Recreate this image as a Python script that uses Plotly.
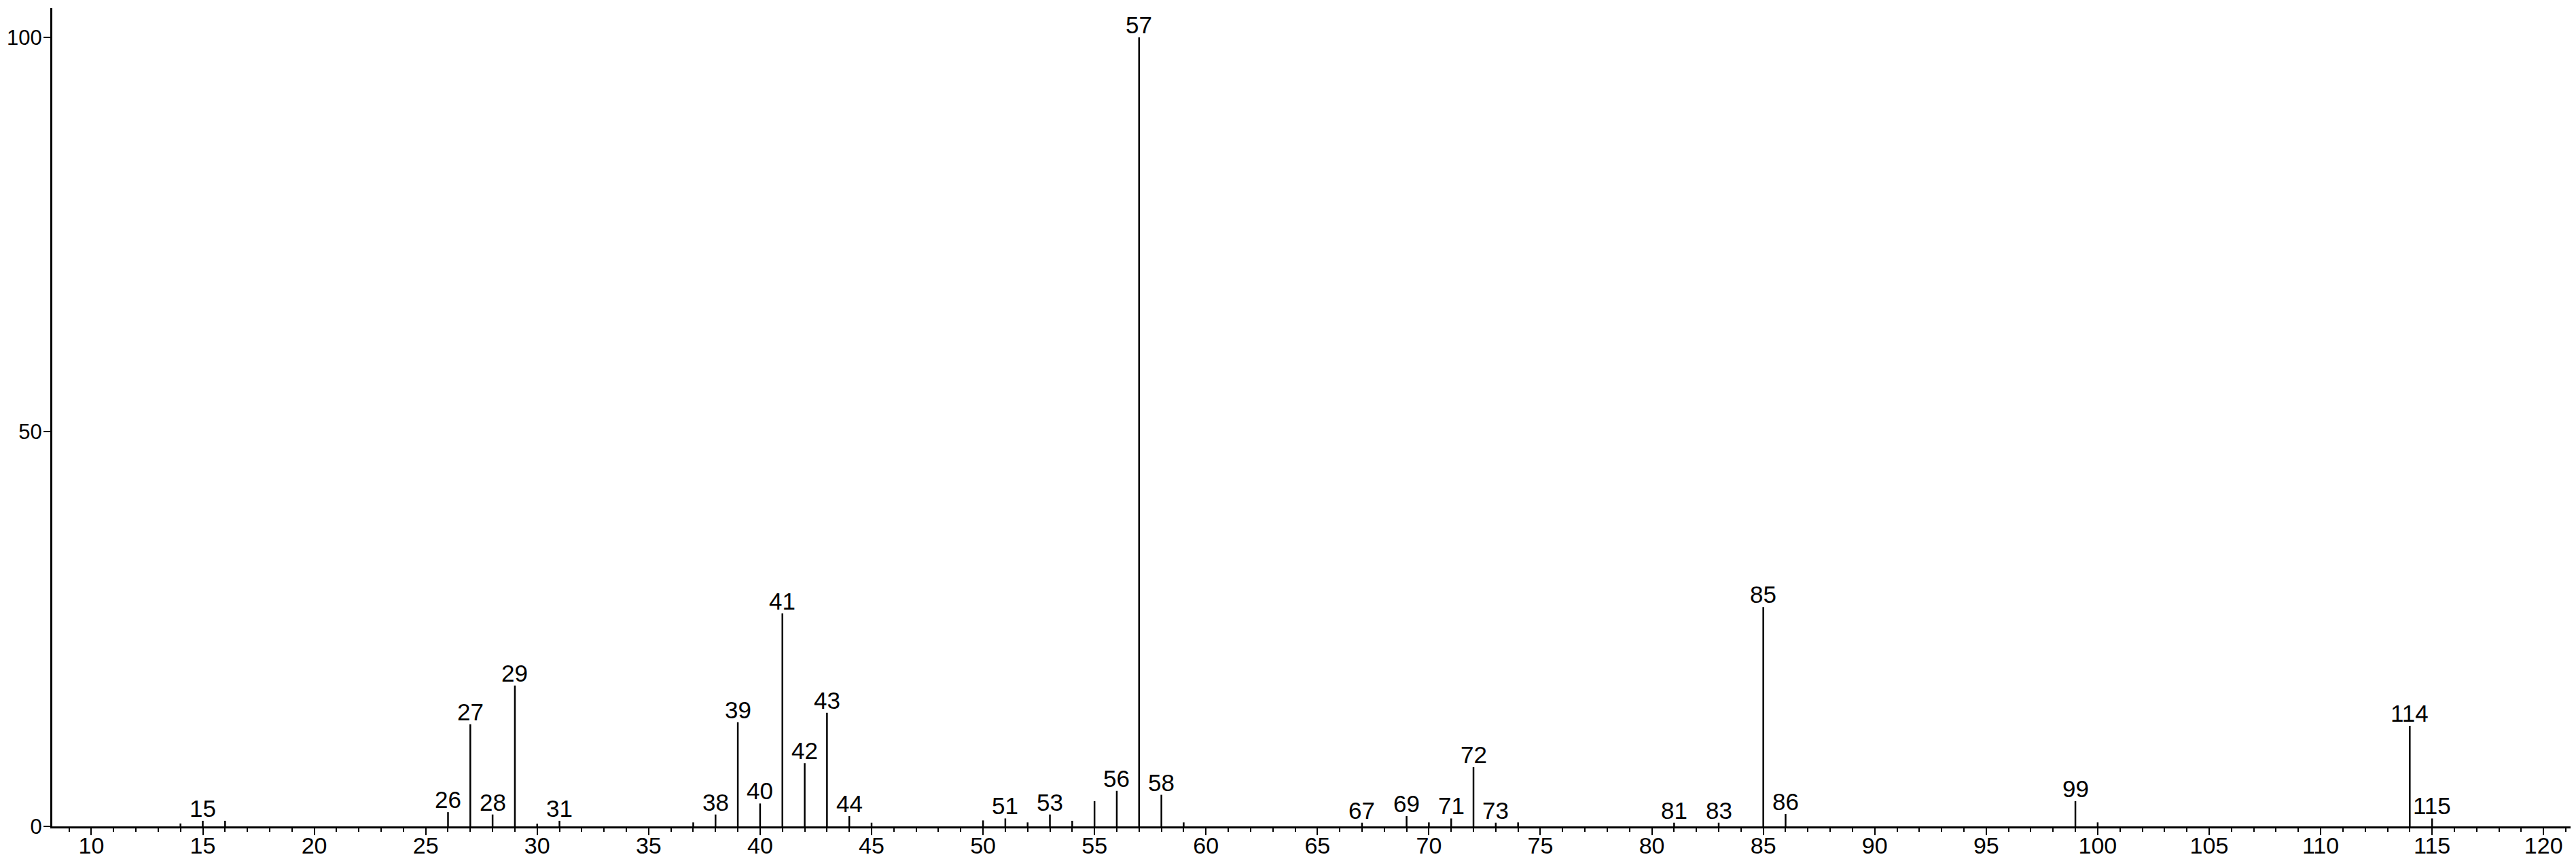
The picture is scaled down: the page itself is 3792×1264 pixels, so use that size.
import plotly.graph_objects as go

# m/z values and relative intensities
mz = [14, 15, 16, 26, 27, 28, 29, 30, 31, 37, 38, 39, 40, 41, 42, 43, 44, 45,
      50, 51, 52, 53, 54, 55, 56, 57, 58, 59, 67, 69, 70, 71, 72, 73, 74,
      81, 83, 85, 86, 99, 100, 114, 115]
intensity = [0.37, 0.7, 0.7, 1.8, 12.95, 1.5, 17.85, 0.35, 0.7, 0.5, 1.5, 13.2, 2.9, 27.0, 8.0, 14.4, 1.3, 0.46,
             0.75, 1.0, 0.5, 1.5, 0.7, 3.2, 4.5, 100.0, 4.0, 0.5, 0.46, 1.3, 0.5, 1.0, 7.5, 0.46, 0.5,
             0.46, 0.46, 27.8, 1.55, 3.2, 0.5, 12.75, 1.0]

labelled = [15, 26, 27, 28, 29, 31, 38, 39, 40, 41, 42, 43, 44, 51, 53, 56, 57, 58,
            67, 69, 71, 72, 73, 81, 83, 85, 86, 99, 114, 115]

y_ticks = [0, 50, 100]
x_range = [8.25, 121.7]

FONT = "Liberation Sans, Arial, sans-serif"

# stick spectrum: one vertical segment per peak
xs, ys = [], []
for m, h in zip(mz, intensity):
    xs += [m, m, None]
    ys += [0, h, None]

fig = go.Figure(go.Scatter(x=xs, y=ys, mode="lines",
                           line=dict(color="black", width=2.5),
                           hoverinfo="skip", showlegend=False))
# empty trace so the overlay axis (long major ticks) gets drawn
fig.add_trace(go.Scatter(x=[None], y=[None], xaxis="x2", mode="lines",
                         hoverinfo="skip", showlegend=False))

peak = dict(zip(mz, intensity))
for m in labelled:
    fig.add_annotation(x=m, y=peak[m], text=str(m), showarrow=False,
                       yanchor="bottom", xanchor="center", yshift=-3,
                       font=dict(family=FONT, size=35, color="black"))

fig.update_layout(
    width=3792, height=1264,
    margin=dict(l=69, r=0, t=4, b=56, autoexpand=False),
    paper_bgcolor="white", plot_bgcolor="white",
    font=dict(family=FONT, size=34, color="black"),
    xaxis=dict(range=x_range, tick0=10, dtick=5, ticks="",
               showline=True, linecolor="black", linewidth=3,
               showgrid=False, zeroline=False, automargin=False, ticklabelstandoff=-4,
               minor=dict(dtick=1, ticks="outside", ticklen=5, tickwidth=2, tickcolor="black", showgrid=False)),
    xaxis2=dict(range=x_range, overlaying="x", anchor="y", side="bottom", tick0=10, dtick=5,
                ticks="outside", ticklen=12, tickwidth=2, tickcolor="black",
                showticklabels=False, showline=False, showgrid=False, zeroline=False, automargin=False),
    yaxis=dict(range=[0, 103.7], tickvals=y_ticks, ticks="outside", ticklen=10, tickwidth=2,
               tickcolor="black", showline=True, linecolor="black", linewidth=3,
               showgrid=False, zeroline=False, automargin=False, ticklabelstandoff=-4,
               tickfont=dict(size=31)),
)

fig.write_html("out.html")
